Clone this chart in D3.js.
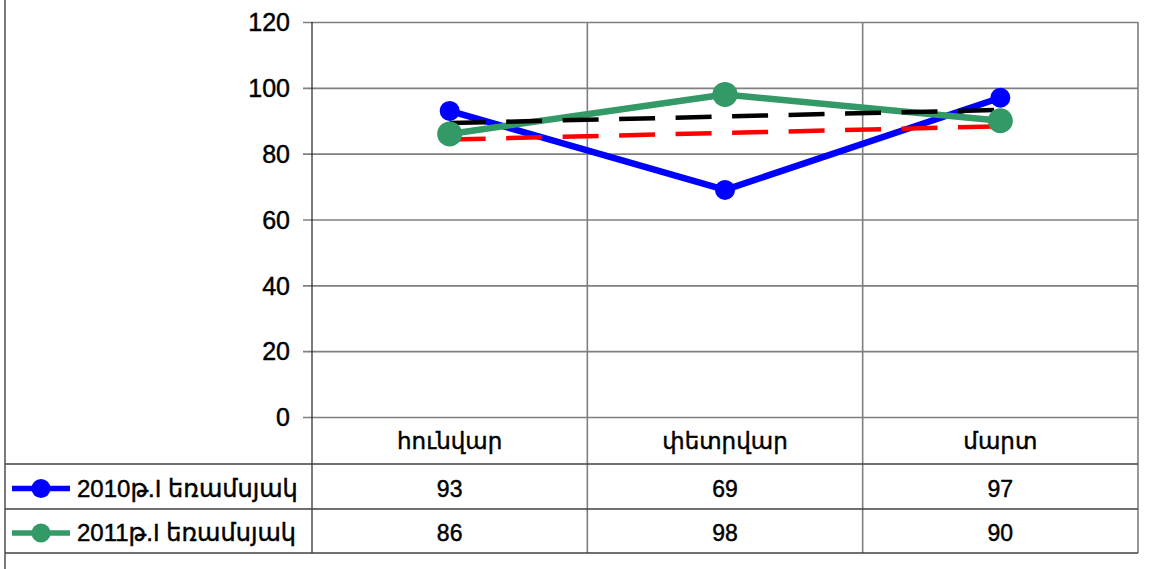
<!DOCTYPE html>
<html>
<head>
<meta charset="utf-8">
<script src="https://cdn.jsdelivr.net/npm/d3@7/dist/d3.min.js"></script>
<style>
  html, body { margin: 0; padding: 0; background: #fff; }
  svg { display: block; }
  text { font-family: "Liberation Sans", Arial, "DejaVu Sans", sans-serif; fill: #000; stroke: #000; stroke-width: 0.45px; }
</style>
</head>
<body>
<svg id="chart" width="1150" height="569"></svg>
<script>
// ---- data ----
const categories = ["հունվար", "փետրվար", "մարտ"];
const seriesNames = ["2010թ.I եռամսյակ", "2011թ.I եռամսյակ"];
const values2010 = [93, 69, 97];
const values2011 = [86, 98, 90];
// linear trend lines (start / end values)
const trend2010 = [84.3, 88.3];
const trend2011 = [89.3, 93.3];
const yTicks = [0, 20, 40, 60, 80, 100, 120];

// ---- layout ----
const W = 1150, H = 569;
const plotL = 312, plotR = 1138, plotT = 22, plotB = 417;
const rowLines = [464, 509, 553];
const frameL = 5;

const svg = d3.select("#chart");

const x = d3.scaleBand().domain(categories).range([plotL, plotR]).padding(0);
const cx = d => x(d) + x.bandwidth() / 2;
const y = d3.scaleLinear().domain([0, 120]).range([plotB, plotT]);

const gridColor = "#7f7f7f";
const tableColor = "#404040";

// outer frame left edge
svg.append("line").attr("x1", frameL).attr("x2", frameL).attr("y1", 0).attr("y2", H)
  .attr("stroke", "#222").attr("stroke-width", 1.2);

// y axis with gridlines
const yAxis = d3.axisLeft(y).tickValues(yTicks).tickSize(-(plotR - plotL)).tickPadding(0).tickFormat(d3.format("d"));
const gy = svg.append("g").attr("transform", `translate(${plotL},0)`).call(yAxis);
gy.select(".domain").remove();
gy.selectAll(".tick line").attr("x1", -9).attr("stroke", gridColor).attr("stroke-width", 1.6);
gy.selectAll(".tick text").attr("x", -22).attr("dy", "0.35em")
  .style("font-size", "25px").attr("fill", "#000");

// vertical lines (category boundaries) through plot and table
const vx = [plotL, ...categories.map(c => x(c) + x.bandwidth())];
svg.selectAll(".vline").data(vx).enter().append("line")
  .attr("x1", d => d).attr("x2", d => d)
  .attr("y1", plotT).attr("y2", rowLines[2])
  .attr("stroke", (d, i) => i === 0 ? "#222" : gridColor)
  .attr("stroke-width", (d, i) => i === 0 ? 1.2 : 1.6);

// table horizontal lines
svg.selectAll(".hline").data(rowLines).enter().append("line")
  .attr("x1", frameL).attr("x2", plotR)
  .attr("y1", d => d).attr("y2", d => d)
  .attr("stroke", tableColor).attr("stroke-width", 1.5);

// category header
const headerY = (plotB + rowLines[0]) / 2;
svg.selectAll(".cat").data(categories).enter().append("text")
  .attr("x", d => cx(d)).attr("y", headerY).attr("dy", "0.35em")
  .attr("text-anchor", "middle").style("font-size", "23px").text(d => d);

// series
const series = [
  { name: seriesNames[0], values: values2010, color: "#0000ff", r: 10, trend: trend2010, trendColor: "#ff0000" },
  { name: seriesNames[1], values: values2011, color: "#339966", r: 12.5, trend: trend2011, trendColor: "#000000" }
];

const line = d3.line().x((d, i) => cx(categories[i])).y(d => y(d));

series.forEach(s => {
  svg.append("path").datum(s.values).attr("d", line)
    .attr("fill", "none").attr("stroke", s.color).attr("stroke-width", 6.5)
    .attr("stroke-linejoin", "round");
});

// trend lines (dashed)
series.forEach(s => {
  svg.append("line")
    .attr("x1", cx(categories[0])).attr("y1", y(s.trend[0]))
    .attr("x2", cx(categories[categories.length - 1])).attr("y2", y(s.trend[1]))
    .attr("stroke", s.trendColor).attr("stroke-width", 4.5)
    .attr("stroke-dasharray", "36,20.5");
});

series.forEach(s => {
  svg.selectAll(null).data(s.values).enter().append("circle")
    .attr("cx", (d, i) => cx(categories[i])).attr("cy", d => y(d))
    .attr("r", s.r).attr("fill", s.color);
});

// table rows: legend key + values
series.forEach((s, k) => {
  const top = rowLines[k], bot = rowLines[k + 1];
  const my = (top + bot) / 2 + 2;
  svg.append("line").attr("x1", 12).attr("x2", 70).attr("y1", my).attr("y2", my)
    .attr("stroke", s.color).attr("stroke-width", 5.5);
  svg.append("circle").attr("cx", 41).attr("cy", my).attr("r", 9.5).attr("fill", s.color);
  svg.append("text").attr("x", 77).attr("y", my).attr("dy", "0.35em")
    .style("font-size", "24px").text(s.name);
  svg.selectAll(null).data(s.values).enter().append("text")
    .attr("x", (d, i) => cx(categories[i])).attr("y", my).attr("dy", "0.35em")
    .attr("text-anchor", "middle").style("font-size", "23px").text(d => d);
});
</script>
</body>
</html>
